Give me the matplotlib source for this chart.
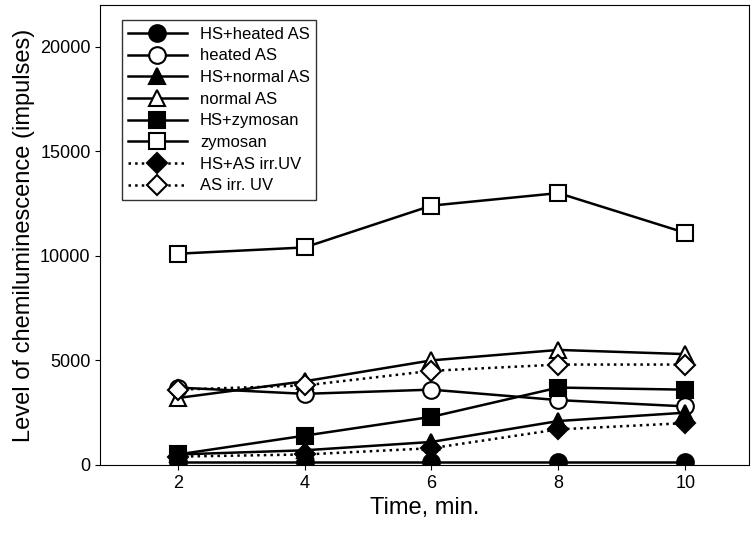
import matplotlib
matplotlib.use("Agg")
import matplotlib.pyplot as plt

plt.rcParams["font.family"] = ["Liberation Sans", "DejaVu Sans"]

time = [2, 4, 6, 8, 10]
hs_heated = [150, 150, 150, 150, 150]
heated = [3700, 3400, 3600, 3100, 2800]
hs_normal = [500, 700, 1100, 2100, 2500]
normal = [3200, 4000, 5000, 5500, 5300]
hs_zym = [500, 1400, 2300, 3700, 3600]
zym = [10100, 10400, 12400, 13000, 11100]
hs_uv = [400, 500, 800, 1700, 2000]
uv = [3600, 3800, 4500, 4800, 4800]

fig = plt.figure(figsize=(7.54, 5.4), dpi=100)
ax = fig.add_axes([0.133, 0.139, 0.86, 0.852])

series = [
    ("HS+heated AS", hs_heated, "o", "black", "-"),
    ("heated AS", heated, "o", "white", "-"),
    ("HS+normal AS", hs_normal, "^", "black", "-"),
    ("normal AS", normal, "^", "white", "-"),
    ("HS+zymosan", hs_zym, "s", "black", "-"),
    ("zymosan", zym, "s", "white", "-"),
    ("HS+AS irr.UV", hs_uv, "D", "black", ":"),
    ("AS irr. UV", uv, "D", "white", ":"),
]
for lab, vals, m, fc, ls in series:
    ax.plot(time, vals, ls=ls, color="black", lw=1.8, marker=m, ms=12 if m != "D" else 10,
            mfc=fc, mec="black", mew=1.5, label=lab)

ax.set_xlim(0.78, 11.0)
ax.set_ylim(0, 22000)
ax.set_xticks(time)
ax.set_yticks([0, 5000, 10000, 15000, 20000])
ax.tick_params(labelsize=13)
ax.set_xlabel("Time, min.", fontsize=17)
ax.set_ylabel("Level of chemiluminescence (impulses)", fontsize=17)
ax.legend(loc="upper left", bbox_to_anchor=(0.02, 0.985), fontsize=12, frameon=True,
          fancybox=False, edgecolor="black", labelspacing=0.4, handlelength=3.5)

fig.savefig("out.png")
